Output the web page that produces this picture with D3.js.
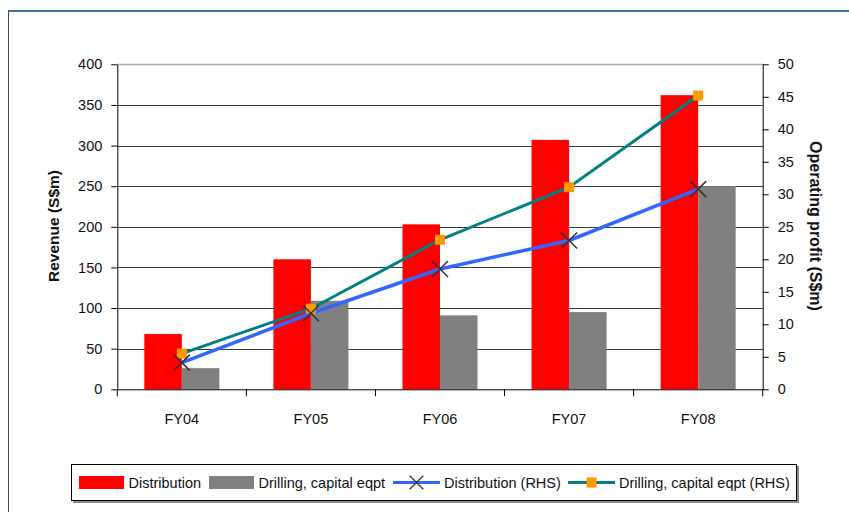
<!DOCTYPE html>
<html>
<head>
<meta charset="utf-8">
<script src="https://cdn.jsdelivr.net/npm/d3@7"></script>
<style>
  body { margin: 0; background: #fff; }
  text { font-family: "Liberation Sans", Arial, sans-serif; fill: #111; }
  .ttl { font-weight: bold; }
</style>
</head>
<body>
<script>
// chart data
var years = ["FY04", "FY05", "FY06", "FY07", "FY08"];
var distribution = [68, 160, 203, 307, 362];
var drilling = [26, 109, 91, 95, 250];
var distributionRHS = [4.1, 11.7, 18.5, 22.9, 30.8];
var drillingRHS = [5.5, 12.4, 23.0, 31.1, 45.2];
var leftTicks = [0, 50, 100, 150, 200, 250, 300, 350, 400];
var rightTicks = [0, 5, 10, 15, 20, 25, 30, 35, 40, 45, 50];

var w = 849, h = 512;
var pLeft = 117.3, pRight = 762.7, pTop = 64.3, pBottom = 389.3;
var fs = "14.5px";

var svg = d3.select("body").append("svg")
    .attr("width", w)
    .attr("height", h);

// outer frame
svg.append("line").attr("x1", 8).attr("x2", w).attr("y1", 11).attr("y2", 11)
    .attr("stroke", "#3f6f9c").attr("stroke-width", 2);
svg.append("line").attr("x1", 8.5).attr("x2", 8.5).attr("y1", 11).attr("y2", h)
    .attr("stroke", "#4a4a4a").attr("stroke-width", 1);

// scales
var x = d3.scaleBand().domain(years).range([pLeft, pRight]);
var xs = d3.scaleBand().domain(["dist", "drill"]).range([0, x.bandwidth()])
    .paddingInner(0).paddingOuter(0.72);
var y = d3.scaleLinear().domain([0, 400]).range([pBottom, pTop]);
var y2 = d3.scaleLinear().domain([0, 50]).range([pBottom, pTop]);

// gridlines
svg.append("g").selectAll("line").data(leftTicks.filter(function(d){ return d > 0; }))
  .enter().append("line")
    .attr("x1", pLeft).attr("x2", pRight)
    .attr("y1", function(d){ return Math.round(y(d)) + 0.5; })
    .attr("y2", function(d){ return Math.round(y(d)) + 0.5; })
    .attr("stroke", function(d){ return d == 400 ? "#a8a8a8" : "#3c3c3c"; })
    .attr("stroke-width", function(d){ return d == 400 ? 1.5 : 1; });

// bars
var groups = svg.append("g").selectAll("g").data(years).enter().append("g")
    .attr("transform", function(d){ return "translate(" + x(d) + ",0)"; });

groups.append("rect")
    .attr("x", xs("dist"))
    .attr("width", xs.bandwidth())
    .attr("y", function(d, i){ return y(distribution[i]); })
    .attr("height", function(d, i){ return pBottom - y(distribution[i]); })
    .attr("fill", "#ff0000");

groups.append("rect")
    .attr("x", xs("drill"))
    .attr("width", xs.bandwidth())
    .attr("y", function(d, i){ return y(drilling[i]); })
    .attr("height", function(d, i){ return pBottom - y(drilling[i]); })
    .attr("fill", "#808080");

// axes
var yAxis = d3.axisLeft(y).tickValues(leftTicks).tickSize(6).tickSizeOuter(0).tickPadding(9);
var gy = svg.append("g").attr("transform", "translate(" + pLeft + ",0)").call(yAxis);

var yAxis2 = d3.axisRight(y2).tickValues(rightTicks).tickSize(6).tickSizeOuter(0).tickPadding(9);
var gy2 = svg.append("g").attr("transform", "translate(" + pRight + ",0)").call(yAxis2);

var xAxis = d3.axisBottom(x).tickSize(0).tickPadding(24);
var gx = svg.append("g").attr("transform", "translate(0," + pBottom + ")").call(xAxis);

[gy, gy2, gx].forEach(function(g){
  g.select(".domain").attr("stroke", "#000");
  g.selectAll(".tick line").attr("stroke", "#000");
  g.selectAll("text").style("font-size", fs).style("font-family", "Liberation Sans, Arial, sans-serif").attr("fill", "#111");
});

// category boundary ticks
var bounds = d3.scaleLinear().domain([0, years.length]).range([pLeft, pRight]);
svg.append("g").selectAll("line").data(d3.range(years.length + 1)).enter().append("line")
    .attr("x1", function(d){ return bounds(d); })
    .attr("x2", function(d){ return bounds(d); })
    .attr("y1", pBottom).attr("y2", pBottom + 7)
    .attr("stroke", "#000");

// lines
var cx = function(d, i){ return x(years[i]) + x.bandwidth() / 2; };
var line1 = d3.line().x(cx).y(function(d){ return y2(d); });

svg.append("path").datum(drillingRHS)
    .attr("d", line1).attr("fill", "none")
    .attr("stroke", "#008080").attr("stroke-width", 3);

svg.append("path").datum(distributionRHS)
    .attr("d", line1).attr("fill", "none")
    .attr("stroke", "#3366ff").attr("stroke-width", 3.5);

// markers
svg.append("g").selectAll("rect").data(drillingRHS).enter().append("rect")
    .attr("x", function(d, i){ return cx(d, i) - 5; })
    .attr("y", function(d){ return y2(d) - 5; })
    .attr("width", 10).attr("height", 10)
    .attr("fill", "#ff9900");

var cross = "M-8,-8L8,8M-8,8L8,-8";
svg.append("g").selectAll("path").data(distributionRHS).enter().append("path")
    .attr("d", cross)
    .attr("transform", function(d, i){ return "translate(" + cx(d, i) + "," + y2(d) + ")"; })
    .attr("stroke", "#333").attr("stroke-width", 1.5).attr("fill", "none");

// axis titles
svg.append("text").attr("class", "ttl")
    .attr("transform", "translate(59,226) rotate(-90)")
    .attr("text-anchor", "middle")
    .style("font-size", "15.5px")
    .text("Revenue (S$m)");

svg.append("text").attr("class", "ttl")
    .attr("transform", "translate(810,226) rotate(90)")
    .attr("text-anchor", "middle")
    .style("font-size", "16px")
    .text("Operating profit (S$m)");

// legend
var lg = svg.append("g");
lg.append("rect").attr("x", 73).attr("y", 466).attr("width", 726).attr("height", 37)
    .attr("fill", "#8a8a8a");
lg.append("rect").attr("x", 71.5).attr("y", 464.5).attr("width", 725).attr("height", 36)
    .attr("fill", "#fff").attr("stroke", "#000");

var legendItems = [
  {label: "Distribution", kind: "bar", color: "#ff0000", x: 79},
  {label: "Drilling, capital eqpt", kind: "bar", color: "#808080", x: 209},
  {label: "Distribution (RHS)", kind: "cross", color: "#3366ff", x: 393},
  {label: "Drilling, capital eqpt (RHS)", kind: "square", color: "#008080", x: 568}
];

legendItems.forEach(function(d){
  var g = lg.append("g").attr("transform", "translate(" + d.x + ",0)");
  if (d.kind == "bar") {
    g.append("rect").attr("x", 0).attr("y", 476).attr("width", 45).attr("height", 13)
      .attr("fill", d.color);
  } else {
    g.append("line").attr("x1", 0).attr("x2", 47).attr("y1", 482.5).attr("y2", 482.5)
      .attr("stroke", d.color).attr("stroke-width", 3);
    if (d.kind == "cross") {
      g.append("path").attr("d", cross).attr("transform", "translate(23.5,482.5) scale(0.85)")
        .attr("stroke", "#333").attr("stroke-width", 1.5);
    } else {
      g.append("rect").attr("x", 18.5).attr("y", 477.5).attr("width", 10).attr("height", 10)
        .attr("fill", "#ff9900");
    }
  }
  g.append("text").attr("x", d.kind == "bar" ? 49.5 : 51).attr("y", 487.5)
    .style("font-size", fs)
    .text(d.label);
});
</script>
</body>
</html>
